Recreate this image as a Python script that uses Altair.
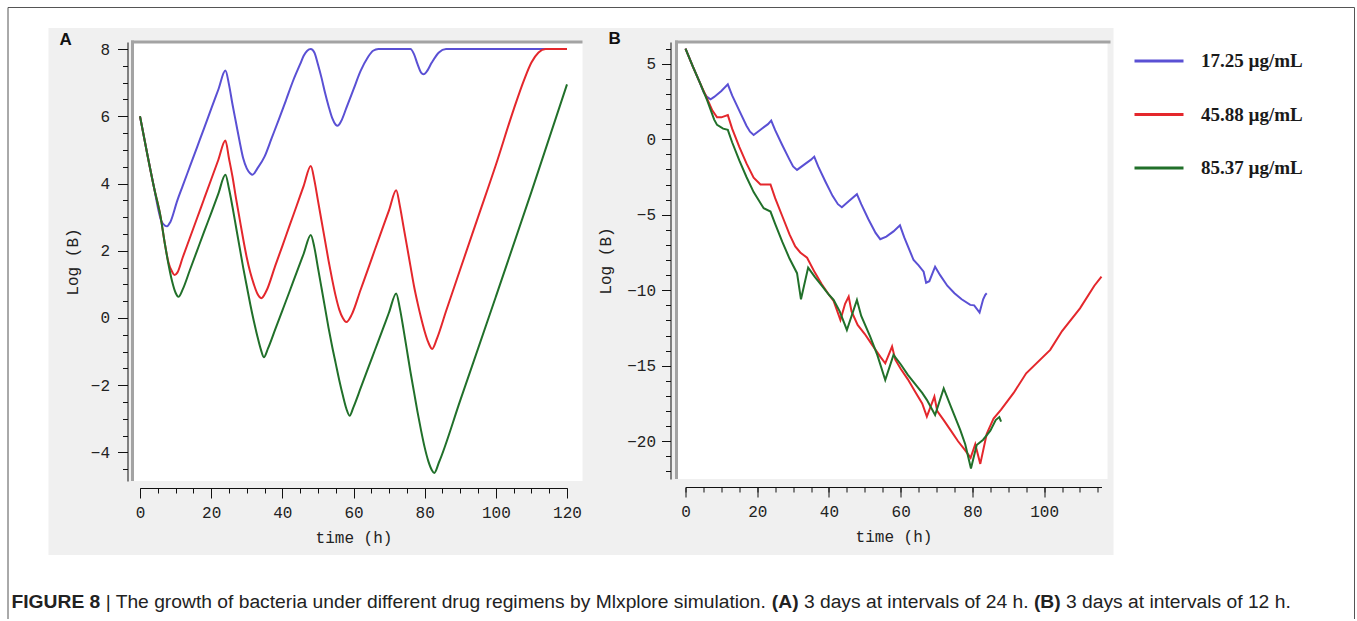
import altair as alt
import pandas as pd

# ---------------- data ----------------
SERIES = ["17.25 µg/mL", "45.88 µg/mL", "85.37 µg/mL"]
COLORS = ["#5a50d4", "#e4272c", "#21702a"]

# Panel A : 3 days at intervals of 24 h
A_BLUE_T = [0, 2, 4, 5.3, 6, 7, 7.6, 8.5, 10.5, 12, 14, 16, 18, 20, 22, 24, 25, 26, 27, 28,
            29, 30, 31, 31.6, 33, 35, 37, 39, 41, 43, 45, 46, 47, 48, 49, 50, 51, 52, 53, 54,
            55, 55.5, 56.5, 58, 60, 62, 64, 65.5, 67, 76, 77, 78, 79, 79.7, 80.5, 82, 84, 86, 120]
A_BLUE_V = [6.0, 4.9, 3.85, 3.15, 2.88, 2.75, 2.73, 2.85, 3.5, 3.93, 4.5, 5.07, 5.64, 6.22, 6.79, 7.36, 6.95, 6.35, 5.8, 5.25,
            4.75, 4.45, 4.3, 4.26, 4.45, 4.8, 5.35, 5.9, 6.47, 7.05, 7.55, 7.8, 7.95, 8.0, 7.9, 7.55, 7.15, 6.7, 6.3, 5.95,
            5.75, 5.72, 5.85, 6.25, 6.8, 7.35, 7.75, 7.95, 8.0, 8.0, 7.85, 7.55, 7.3, 7.25, 7.32, 7.6, 7.9, 8.0, 8.0]

A_RED_T = [0, 2, 4, 5.8, 7, 8, 9, 9.7, 10.5, 12, 14, 16, 18, 20, 22, 24, 25, 26, 27, 28,
           29, 30, 31, 32, 33, 34.1, 35.5, 38, 40, 42, 44, 46, 48, 49, 50, 51, 52, 53, 54, 55,
           56, 57, 58, 59.5, 62, 64, 66, 68, 70, 72, 73, 74, 75, 76, 77, 78, 79, 80, 81, 82.1,
           83.5, 86, 90, 95, 100, 105, 108, 110, 112, 114, 120]
A_RED_V = [6.0, 4.9, 3.85, 3.0, 2.2, 1.65, 1.38, 1.28, 1.35, 1.8, 2.38, 2.96, 3.54, 4.12, 4.7, 5.28, 4.75, 4.2, 3.55, 2.95,
           2.35, 1.8, 1.35, 1.0, 0.72, 0.59, 0.8, 1.55, 2.14, 2.74, 3.33, 3.93, 4.52, 4.1, 3.5, 2.9, 2.3, 1.7, 1.15, 0.65,
           0.25, 0.0, -0.12, 0.1, 0.84, 1.43, 2.03, 2.62, 3.21, 3.8, 3.35, 2.75, 2.15, 1.55, 0.95, 0.45, 0.0, -0.4, -0.72, -0.92,
           -0.6, 0.2, 1.45, 3.0, 4.55, 6.2, 7.1, 7.6, 7.9, 8.0, 8.0]

A_GREEN_T = [0, 2, 4, 5.8, 7, 8, 9, 10, 10.8, 12, 14, 16, 18, 20, 22, 24, 25, 26, 27, 28,
             29, 30, 31, 32, 33, 34, 34.8, 36, 38, 40, 42, 44, 46, 48, 49, 50, 51, 52, 53, 54,
             55, 56, 57, 58, 58.9, 60, 62, 64, 66, 68, 70, 72, 73, 74, 75, 76, 77, 78, 79, 80,
             81, 82, 82.7, 84, 90, 100, 110, 120]
A_GREEN_V = [6.0, 4.9, 3.85, 3.0, 2.2, 1.6, 1.1, 0.75, 0.63, 0.85, 1.42, 1.99, 2.56, 3.12, 3.69, 4.26, 3.85, 3.3, 2.7, 2.1,
             1.5, 0.95, 0.4, -0.1, -0.55, -0.95, -1.17, -0.9, -0.34, 0.22, 0.78, 1.35, 1.91, 2.47, 2.1, 1.5, 0.9, 0.3, -0.3, -0.85,
             -1.35, -1.85, -2.3, -2.7, -2.91, -2.65, -2.09, -1.52, -0.96, -0.4, 0.17, 0.73, 0.3, -0.3, -0.95, -1.6, -2.2, -2.8, -3.35, -3.85,
             -4.25, -4.52, -4.61, -4.3, -2.45, 0.63, 3.75, 6.95]

# Panel B : 3 days at intervals of 12 h
B_BLUE_T = [0, 2, 4, 5.1, 6, 7, 8, 10, 11.8, 13, 15, 17, 18, 19, 21, 23, 23.9, 25, 27, 29,
            30, 31.1, 33, 35, 35.9, 37, 39, 41, 42.5, 43.6, 45.5, 47.8, 49, 51, 53, 54.3, 56, 58, 59.8, 61,
            63.6, 65, 66.4, 67.1, 68, 69.6, 71, 73, 75, 77, 79.4, 80.5, 82, 83, 83.6, 84]
B_BLUE_V = [6.0, 4.85, 3.75, 3.1, 2.8, 2.65, 2.8, 3.2, 3.64, 2.9, 1.9, 0.9, 0.5, 0.28, 0.65, 1.0, 1.23, 0.6, -0.4, -1.35,
            -1.8, -2.03, -1.7, -1.35, -1.15, -1.8, -2.8, -3.75, -4.3, -4.5, -4.1, -3.64, -4.3, -5.3, -6.2, -6.62, -6.45, -6.1, -5.7, -6.5,
            -8.0, -8.35, -8.77, -9.5, -9.4, -8.44, -9.0, -9.7, -10.2, -10.6, -10.97, -11.0, -11.48, -10.6, -10.3, -10.2]

B_RED_T = [0, 2, 4, 6, 7.5, 8.8, 10, 11.8, 13, 15, 17, 19, 20.9, 23.7, 25, 27, 29, 30.6, 32, 33.9,
           36, 38, 40, 41.3, 43.2, 44.5, 45.5, 46.3, 48, 50, 52, 54.3, 55.7, 57.6, 58.5, 60, 62, 64, 66, 67.3,
           69.4, 70.2, 72, 74, 76, 78, 79.5, 80.8, 82.2, 84, 85.9, 88, 91.5, 95, 101.7, 105, 110, 114, 116]
B_RED_V = [6.0, 4.85, 3.75, 2.7, 1.9, 1.45, 1.45, 1.6, 0.7, -0.5, -1.6, -2.55, -3.0, -3.0, -3.9, -5.1, -6.3, -7.1, -7.5, -7.85,
           -8.8, -9.6, -10.3, -10.7, -11.97, -10.9, -10.42, -11.4, -12.3, -12.9, -13.6, -14.4, -14.84, -13.73, -14.6, -15.2, -15.9, -16.7, -17.5, -18.37,
           -17.04, -18.0, -18.6, -19.3, -20.0, -20.6, -21.1, -20.2, -21.5, -19.5, -18.5, -17.9, -16.8, -15.5, -13.95, -12.7, -11.2, -9.7, -9.1]

B_GREEN_T = [0, 2, 4, 6, 8, 8.8, 10.5, 11.8, 13, 15, 17, 19, 21.8, 23.7, 25, 27, 29, 31.1, 32.2, 34.2,
             36, 38, 40, 41.3, 43, 45, 47.8, 49, 51.5, 53.5, 55.7, 58, 60, 62, 64, 66, 67.3, 69.6, 72, 74,
             76.6, 78, 79.6, 81.2, 83, 85, 86.5, 87.5, 88]
B_GREEN_V = [6.0, 4.85, 3.75, 2.6, 1.3, 0.95, 0.7, 0.62, -0.2, -1.4, -2.5, -3.5, -4.57, -4.79, -5.6, -6.8, -7.9, -8.87, -10.6, -8.5,
             -9.1, -9.7, -10.3, -10.64, -11.4, -12.63, -10.64, -11.7, -13.07, -14.3, -15.94, -14.28, -14.9, -15.6, -16.2, -16.8, -17.26, -18.26, -16.5, -17.7,
             -19.25, -20.2, -21.8, -20.25, -19.9, -19.3, -18.6, -18.4, -18.7]

A_X_TICKS = [0, 20, 40, 60, 80, 100, 120]
A_Y_TICKS = [-4, -2, 0, 2, 4, 6, 8]
B_X_TICKS = [0, 20, 40, 60, 80, 100]
B_Y_TICKS = [-20, -15, -10, -5, 0, 5]

CAPTION_PARTS = ["FIGURE 8 ",
                 "| The growth of bacteria under different drug regimens by Mlxplore simulation. ",
                 "(A)", " 3 days at intervals of 24 h. ", "(B)", " 3 days at intervals of 12 h."]
CAPTION_BOLD = [True, False, True, False, True, False]


def long_df(parts):
    rows = []
    for name, ts, vs in parts:
        for t, v in zip(ts, vs):
            rows.append({"t": t, "v": v, "s": name})
    return pd.DataFrame(rows)


dfA = long_df([(SERIES[0], A_BLUE_T, A_BLUE_V), (SERIES[1], A_RED_T, A_RED_V), (SERIES[2], A_GREEN_T, A_GREEN_V)])
dfB = long_df([(SERIES[0], B_BLUE_T, B_BLUE_V), (SERIES[1], B_RED_T, B_RED_V), (SERIES[2], B_GREEN_T, B_GREEN_V)])

# ---------------- layout (absolute page pixels) ----------------
AX, AY = 139.5, 42.0
BX, BY = 685.0, 42.0
A_W, A_H = 427, 439
B_W, B_H = 416, 437
A_XDOM, A_YDOM = [0, 120], [-4.85, 8.21]
B_XDOM, B_YDOM = [0, 116], [-22.5, 6.44]

AX_FONT = "Liberation Mono"
ONE = pd.DataFrame({"k": [0]})

LEGEND = alt.Legend(title=None, orient="none", legendX=993, legendY=-7, symbolType="stroke",
                    symbolSize=2401, symbolStrokeWidth=3, labelFont="Liberation Serif",
                    labelFontSize=19, labelFontWeight="bold", labelColor="#1a1a1a",
                    labelOffset=16, rowPadding=17.5, padding=0, labelLimit=400, direction="vertical")
COLOR = alt.Color("s:N", scale=alt.Scale(domain=SERIES, range=COLORS), legend=LEGEND)


def rect(ox, oy, x, x2, y, y2, color):
    return alt.Chart(ONE).mark_rect(fill=color, strokeWidth=0).encode(
        x=alt.value(x - ox), x2=alt.value(x2 - ox), y=alt.value(y - oy), y2=alt.value(y2 - oy))


def hrule(ox, oy, x, x2, y, color, w):
    return alt.Chart(ONE).mark_rule(color=color, strokeWidth=w).encode(
        x=alt.value(x - ox), x2=alt.value(x2 - ox), y=alt.value(y - oy))


def vrule(ox, oy, x, y, y2, color, w):
    return alt.Chart(ONE).mark_rule(color=color, strokeWidth=w).encode(
        x=alt.value(x - ox), y=alt.value(y - oy), y2=alt.value(y2 - oy))


def text(ox, oy, x, y, s, size, bold, font="Liberation Sans", color="#111"):
    return alt.Chart(ONE).mark_text(text=s, font=font, fontSize=size,
                                    fontWeight="bold" if bold else "normal", align="left",
                                    baseline="alphabetic", color=color).encode(
        x=alt.value(x - ox), y=alt.value(y - oy))


def major_axis(values, title, orient, offset, tick, lpad, tpad):
    return alt.Axis(values=values, title=title, orient=orient, offset=offset, tickSize=tick,
                    labelPadding=lpad, titlePadding=tpad, domainColor="#111", tickColor="#111",
                    domainWidth=1, tickWidth=1, labelFont=AX_FONT, labelFontSize=16,
                    labelColor="#222", titleFont=AX_FONT, titleFontSize=16,
                    titleFontWeight="normal", titleColor="#222", grid=False, zindex=2,
                    labelFlush=False, labelOverlap=False)


def minor_axis(values, orient, offset, tick):
    return alt.Axis(values=values, title=None, orient=orient, offset=offset, tickSize=tick,
                    labels=False, domain=False, tickColor="#111", tickWidth=1, grid=False, zindex=2)


def panel(df, ox, oy, w, h, xdom, ydom, xt, xmin, yt, ymin, xoff, yoff, ytick, ylpad, ytpad, extra, interp):
    xs = alt.Scale(domain=xdom, nice=False, zero=False)
    ys = alt.Scale(domain=ydom, nice=False, zero=False)
    lines = alt.Chart(df).mark_line(strokeWidth=2, interpolate=interp).encode(
        x=alt.X("t:Q", scale=xs, axis=major_axis(xt, "time (h)", "bottom", xoff, 10, 6, 9)),
        y=alt.Y("v:Q", scale=ys, axis=major_axis(yt, "Log (B)", "left", yoff, ytick, ylpad, ytpad)),
        color=COLOR,
    )
    minor = alt.Chart(pd.DataFrame({"t": [xdom[0]], "v": [ydom[0]]})).mark_point(opacity=0).encode(
        x=alt.X("t:Q", scale=xs, axis=minor_axis(xmin, "bottom", xoff, 5)),
        y=alt.Y("v:Q", scale=ys, axis=minor_axis(ymin, "left", yoff, 5)),
    )
    return alt.layer(*extra, lines, minor).resolve_axis(x="independent", y="independent").properties(
        width=w, height=h)


# caption segment positions from Arial / Liberation Sans advance widths
REG = dict(zip("abcdefghijklmnopqrstuvwxyz",
               [556, 556, 500, 556, 556, 278, 556, 556, 222, 222, 500, 222, 833, 556, 556, 556, 556,
                333, 500, 278, 556, 500, 722, 500, 500, 500]))
REG.update({" ": 278, ".": 278, "(": 333, ")": 333, "|": 260, "T": 611, "M": 833, "A": 667, "B": 667})
REG.update({d: 556 for d in "0123456789"})
BOLD = {" ": 278, "(": 333, ")": 333, "|": 280, "F": 611, "I": 278, "G": 778, "U": 722, "R": 722,
        "E": 667, "A": 722, "B": 722}
BOLD.update({d: 556 for d in "0123456789"})


def units(s, bold):
    tb = BOLD if bold else REG
    return sum(tb.get(c, 556) for c in s) / 1000.0


CAP_X0, CAP_X1, CAP_BASE = 11.0, 1290.0, 608.0
total = sum(units(s, b) for s, b in zip(CAPTION_PARTS, CAPTION_BOLD))
cap_size = round((CAP_X1 - CAP_X0) / total, 2)
caption_layers = []
cx = CAP_X0
for s, b in zip(CAPTION_PARTS, CAPTION_BOLD):
    lead = len(s) - len(s.lstrip(" "))
    caption_layers.append(text(AX, AY, cx + units(" " * lead, b) * cap_size, CAP_BASE, s.strip(" "),
                               cap_size, b, color="#222"))
    cx += units(s, b) * cap_size

GRAY = "#f0f0f0"
FRAME = "#a3a3a3"
BORDER = "#555555"

extraA = [
    rect(AX, AY, 48, 1113, 28, 555, GRAY),
    vrule(AX, AY, 7.5, 7.5, 619, BORDER, 1),
    hrule(AX, AY, 7.5, 1354, 7.5, BORDER, 1),
    vrule(AX, AY, 1354, 7.5, 619, BORDER, 1),
    rect(AX, AY, 133, 582, 43, 481, "white"),
    vrule(AX, AY, 132, 40.5, 481, FRAME, 3),
    hrule(AX, AY, 130.5, 582, 42, FRAME, 3),
    text(AX, AY, 59, 45, "A", 17, True),
] + caption_layers

extraB = [
    rect(BX, BY, 677, 1107, 43, 479, "white"),
    vrule(BX, BY, 676, 40.5, 479, FRAME, 3),
    hrule(BX, BY, 674.5, 1110, 42, FRAME, 3),
    text(BX, BY, 608, 44, "B", 17, True),
]

A_X_MINOR = [5 * i for i in range(0, 25)]
A_Y_MINOR = [0.5 * i for i in range(-9, 17)]
B_X_MINOR = [5 * i for i in range(0, 24)]
B_Y_MINOR = [i for i in range(-22, 7)]

panelA = panel(dfA, AX, AY, A_W, A_H, A_XDOM, A_YDOM, A_X_TICKS, A_X_MINOR, A_Y_TICKS, A_Y_MINOR,
               7, 12.5, 10, 8, 10, extraA, "monotone")
panelB = panel(dfB, BX, BY, B_W, B_H, B_XDOM, B_YDOM, B_X_TICKS, B_X_MINOR, B_Y_TICKS, B_Y_MINOR,
               8, 15, 9, 6, 13, extraB, "linear")

chart = alt.hconcat(panelA, panelB, spacing=BX - (AX + A_W), bounds="flush").properties(
    padding={"left": 7, "top": 7, "right": 2, "bottom": 0}, background="white"
).configure_view(strokeWidth=0)

chart.save("out.html", embed_options={"renderer": "svg", "actions": False})
